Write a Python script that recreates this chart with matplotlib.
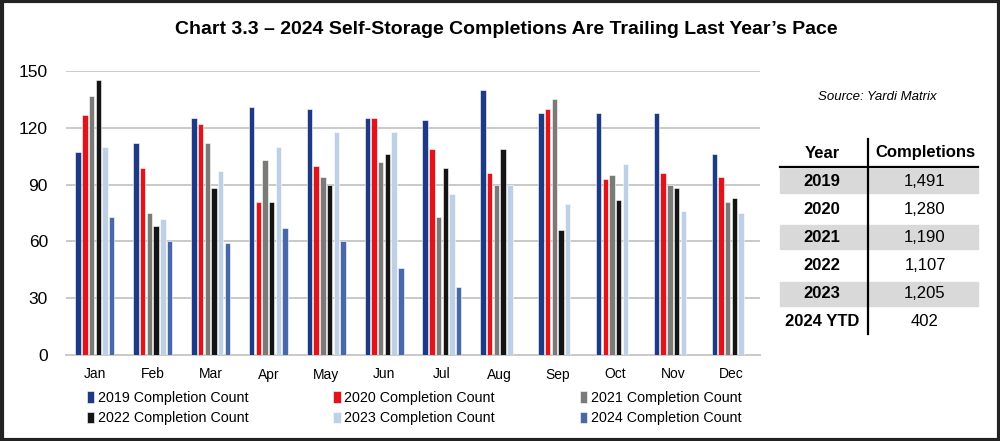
import numpy as np
import matplotlib
matplotlib.use("Agg")
import matplotlib.pyplot as plt
from matplotlib.patches import Rectangle
from matplotlib.lines import Line2D

plt.rcParams['font.family'] = ['Liberation Sans Narrow', 'Liberation Sans', 'DejaVu Sans']

### data
months = ['Jan', 'Feb', 'Mar', 'Apr', 'May', 'Jun', 'Jul', 'Aug', 'Sep', 'Oct', 'Nov', 'Dec']
c2019 = [107, 112, 125, 131, 130, 125, 124, 140, 128, 128, 128, 106]
c2020 = [127, 99, 122, 81, 100, 125, 109, 96, 130, 93, 96, 94]
c2021 = [137, 75, 112, 103, 94, 102, 73, 90, 135, 95, 90, 81]
c2022 = [145, 68, 88, 81, 90, 106, 99, 109, 66, 82, 88, 83]
c2023 = [110, 72, 97, 110, 118, 118, 85, 90, 80, 101, 76, 75]
c2024 = [73, 60, 59, 67, 60, 46, 36]

table_years = ['2019', '2020', '2021', '2022', '2023', '2024 YTD']
table_totals = ['1,491', '1,280', '1,190', '1,107', '1,205', '402']

series = [('2019 Completion Count', c2019, '#1f3a84'),
          ('2020 Completion Count', c2020, '#df141c'),
          ('2021 Completion Count', c2021, '#7a7a78'),
          ('2022 Completion Count', c2022, '#141414'),
          ('2023 Completion Count', c2023, '#bdd0e5'),
          ('2024 Completion Count', c2024, '#4868a8')]

W, H = 1000, 441
fig = plt.figure(figsize=(W / 100, H / 100), dpi=100)


def px(x, y):
    # pixel position (from top-left) -> figure fraction
    return x / W, 1 - y / H


### 1/ chart area
ax = fig.add_axes([66 / W, 1 - 355 / H, 694 / W, 284 / H])
x = np.arange(len(months))
bw = 0.094
pitch = 0.116
for i, (name, vals, col) in enumerate(series):
    xs = x[:len(vals)] + (i - 2.5) * pitch
    ax.bar(xs, vals, width=bw, color=col, edgecolor='white', linewidth=0.4, zorder=3, label=name)

ax.set_xlim(-0.5, len(months) - 0.5)
ax.set_ylim(0, 150)
ax.set_yticks(range(0, 151, 30))
ax.yaxis.grid(True, color='#c9c9c9', linewidth=1.4, zorder=0)
ax.set_axisbelow(True)
for s in ['top', 'right', 'left']:
    ax.spines[s].set_visible(False)
ax.spines['bottom'].set_color('#c9c9c9')
ax.spines['bottom'].set_linewidth(1.4)
ax.tick_params(axis='both', length=0)
ax.tick_params(axis='y', labelsize=12.5, pad=13)
ax.tick_params(axis='x', labelsize=10, pad=9)
ax.set_xticks(x)
ax.set_xticklabels(months)

### 2/ legend, filled row by row
handles, labels = ax.get_legend_handles_labels()
order = [0, 3, 1, 4, 2, 5]
fig.legend([handles[k] for k in order], [labels[k] for k in order],
           ncol=3, loc='upper left', bbox_to_anchor=px(87, 391), frameon=False,
           fontsize=10.3, handlelength=0.5, handleheight=0.85, handletextpad=0.25,
           columnspacing=5.95, labelspacing=0.45, borderaxespad=0, borderpad=0)

### 3/ title and source
fig.text(*px(506, 30), 'Chart 3.3 \u2013 2024 Self-Storage Completions Are Trailing Last Year\u2019s Pace',
         ha='center', va='center', fontsize=14, fontweight='bold')
fig.text(*px(877, 97), 'Source: Yardi Matrix', ha='center', va='center', fontsize=9.5, style='italic')

### 4/ summary table
row_y0, row_h = 181, 28.2
for k, (yr, tot) in enumerate(zip(table_years, table_totals)):
    cy = row_y0 + k * row_h
    if k % 2 == 0:
        fx, fy = px(780, cy + 12)
        fig.patches.append(Rectangle((fx, fy), 198 / W, 24 / H, transform=fig.transFigure,
                                     color='#d9d9d9', zorder=0))
    fig.text(*px(822, cy), yr, ha='center', va='center', fontsize=12, fontweight='bold')
    fig.text(*px(925, cy), tot, ha='center', va='center', fontsize=12)

fig.text(*px(822, 153), 'Year', ha='center', va='center', fontsize=12, fontweight='bold')
fig.text(*px(925, 153), 'Completions', ha='center', va='center', fontsize=12, fontweight='bold')
fig.lines.append(Line2D([780 / W, 978 / W], [1 - 167 / H] * 2, transform=fig.transFigure,
                        color='black', linewidth=1.6))
fig.lines.append(Line2D([868 / W] * 2, [1 - 139 / H, 1 - 334 / H], transform=fig.transFigure,
                        color='black', linewidth=1.6))

### 5/ outer frame
fig.patches.append(Rectangle((0.0015, 0.003), 0.997, 0.994, transform=fig.transFigure,
                             fill=False, edgecolor='#222222', linewidth=3))

fig.savefig('out.png', dpi=100)
